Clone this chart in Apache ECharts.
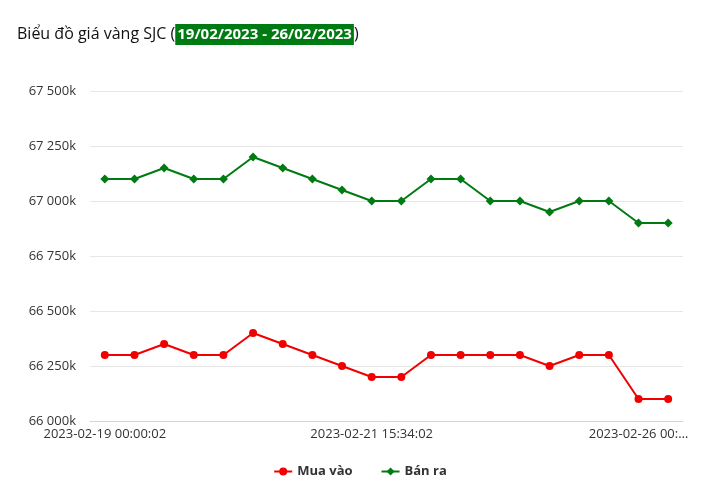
<!DOCTYPE html>
<html>
<head>
<meta charset="utf-8">
<script src="https://cdn.jsdelivr.net/npm/echarts@6/dist/echarts.min.js"></script>
<style>
    html, body { margin: 0; padding: 0; background: #fff; }
    #chart { width: 720px; height: 494px; }
</style>
</head>
<body>
<div id="chart"></div>
<script>
var dates = [
    "2023-02-19 00:00:02", "2023-02-19 08:30:02", "2023-02-20 00:00:02", "2023-02-20 08:30:02",
    "2023-02-20 10:15:02", "2023-02-20 14:40:02", "2023-02-21 00:00:02", "2023-02-21 08:30:02",
    "2023-02-21 10:05:02", "2023-02-21 15:34:02", "2023-02-22 00:00:02", "2023-02-22 09:20:02",
    "2023-02-23 00:00:02", "2023-02-23 10:45:02", "2023-02-24 00:00:02", "2023-02-24 09:10:02",
    "2023-02-25 00:00:02", "2023-02-25 08:30:02", "2023-02-26 00:00:02", "2023-02-26 08:30:02"
];
var mua_vao = [
    66300000, 66300000, 66350000, 66300000, 66300000, 66400000, 66350000, 66300000, 66250000, 66200000,
    66200000, 66300000, 66300000, 66300000, 66300000, 66250000, 66300000, 66300000, 66100000, 66100000
];
var ban_ra = [
    67100000, 67100000, 67150000, 67100000, 67100000, 67200000, 67150000, 67100000, 67050000, 67000000,
    67000000, 67100000, 67100000, 67000000, 67000000, 66950000, 67000000, 67000000, 66900000, 66900000
];
var series_names = ["Mua vào", "Bán ra"];
var title_text = "Biểu đồ giá vàng SJC (";
var title_range = "19/02/2023 - 26/02/2023";

var font = "'Open Sans', 'Noto Sans', sans-serif";

function format_k(value){
    var s = String(Math.round(value / 1000));
    return s.replace(/\B(?=(\d{3})+(?!\d))/g, ' ') + 'k';
}

var chart = echarts.init(document.getElementById('chart'));

var option = {
    animation: false,
    textStyle: { fontFamily: font },
    title: {
        left: 12,
        top: 19,
        text: title_text + '{hl|' + title_range + '})',
        textStyle: {
            fontFamily: font,
            fontSize: 16,
            fontWeight: 'normal',
            color: '#111',
            rich: {
                hl: {
                    fontFamily: font,
                    fontSize: 15,
                    fontWeight: 'bold',
                    color: '#fff',
                    backgroundColor: '#007a12',
                    padding: [3, 2, 3, 2]
                }
            }
        }
    },
    legend: {
        bottom: 11,
        itemGap: 28,
        itemWidth: 18,
        itemHeight: 10,
        data: series_names,
        textStyle: { fontFamily: font, fontSize: 13, fontWeight: 'bold', color: '#333' }
    },
    grid: {
        left: 90,
        right: 37,
        top: 91,
        bottom: 73
    },
    xAxis: {
        type: 'category',
        data: dates,
        boundaryGap: true,
        axisLine: { lineStyle: { color: '#ccd6eb', width: 1 } },
        axisTick: { show: false },
        axisLabel: {
            interval: 8,
            color: '#333',
            fontSize: 13,
            margin: 7,
            formatter: function(value, index){
                if (index === 18)
                    return value.slice(0, 14) + '…';
                return value;
            }
        }
    },
    yAxis: {
        type: 'value',
        min: 66000000,
        max: 67500000,
        interval: 250000,
        axisLine: { show: false },
        axisTick: { show: false },
        splitLine: { lineStyle: { color: '#e6e6e6' } },
        axisLabel: {
            color: '#333',
            fontSize: 13,
            margin: 14,
            formatter: format_k
        }
    },
    series: [
        {
            name: series_names[0],
            type: 'line',
            data: mua_vao,
            color: '#f20000',
            symbol: 'circle',
            symbolSize: 8,
            lineStyle: { width: 2 }
        },
        {
            name: series_names[1],
            type: 'line',
            data: ban_ra,
            color: '#007a12',
            symbol: 'diamond',
            symbolSize: 9,
            lineStyle: { width: 2 }
        }
    ]
};

chart.setOption(option);
</script>
</body>
</html>
